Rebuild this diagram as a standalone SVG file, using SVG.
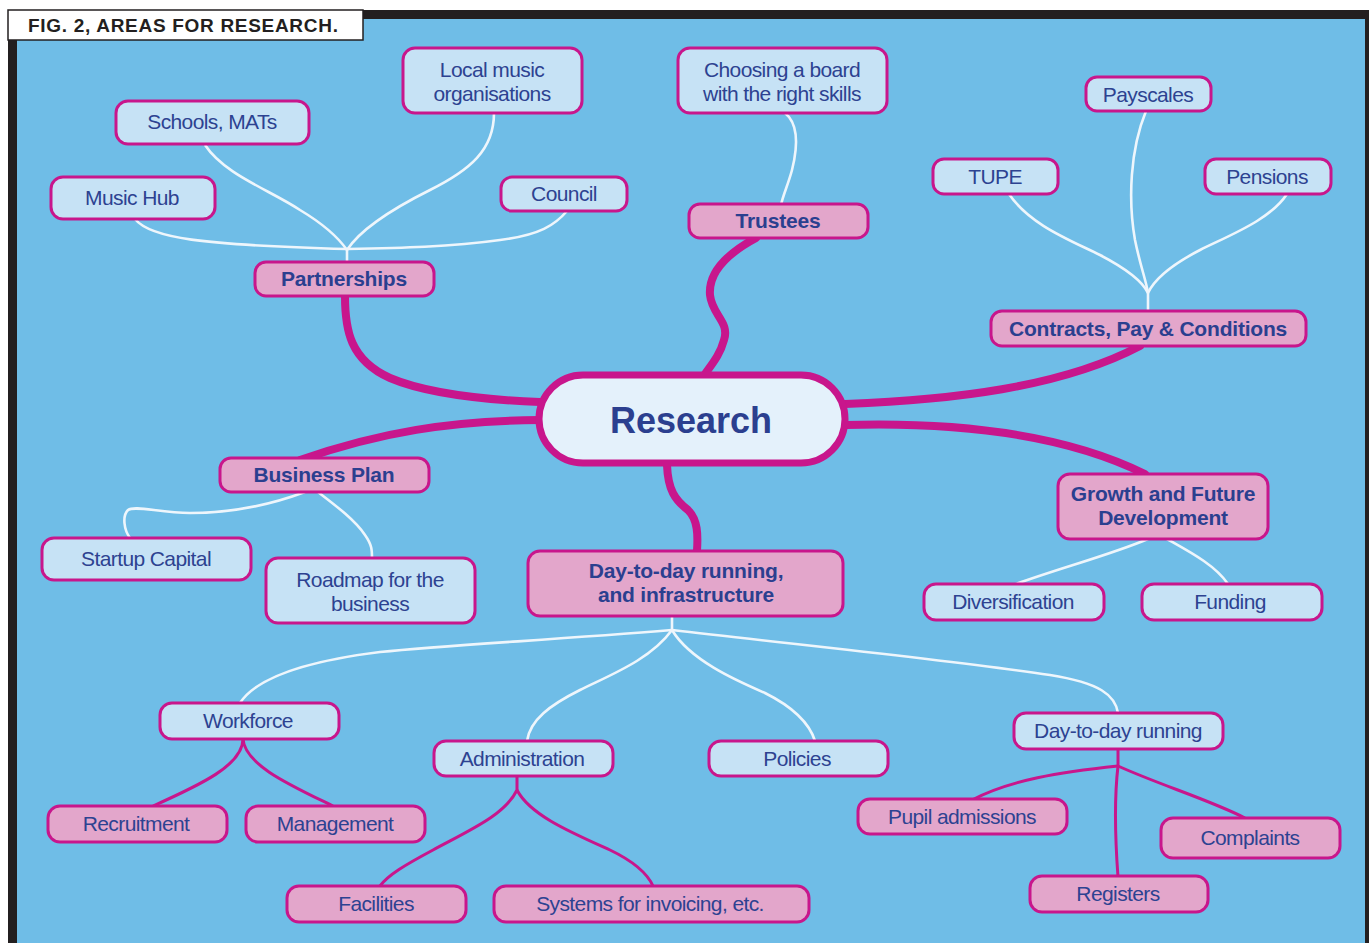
<svg xmlns="http://www.w3.org/2000/svg" width="1369" height="943" viewBox="0 0 1369 943">
<style>
.bg{fill:#6FBDE7}
.lt rect{fill:#C6E2F5;stroke:#C8168C;stroke-width:3}
.pk rect{fill:#E3A6CB;stroke:#C8168C;stroke-width:3}
.lt text,.pk text{font-family:"Liberation Sans",Arial,sans-serif;font-size:21px;fill:#2D4291;text-anchor:middle;letter-spacing:-0.6px}
.cat rect{fill:#E3A6CB;stroke:#C8168C;stroke-width:3}
.cat text{font-family:"Liberation Sans",Arial,sans-serif;font-size:21px;font-weight:bold;fill:#2B3F8F;text-anchor:middle;letter-spacing:-0.2px}
.thick{fill:none;stroke:#C8168C;stroke-width:8;stroke-linecap:round}
.white{fill:none;stroke:#EEF6FC;stroke-width:2.6}
.mag{fill:none;stroke:#C8168C;stroke-width:3}
</style>
<rect class="bg" x="0" y="0" width="1369" height="943"/>
<rect x="0" y="0" width="1369" height="10" fill="#FFFFFF"/>
<rect x="0" y="0" width="8" height="943" fill="#FFFFFF"/>
<rect x="8" y="10" width="1361" height="9" fill="#231F20"/>
<rect x="8" y="10" width="9" height="933" fill="#231F20"/>
<rect x="1365" y="10" width="4" height="933" fill="#231F20"/>
<g id="title">
<rect x="8" y="10" width="355" height="30" fill="#FFFFFF" stroke="#231F20" stroke-width="1.5"/>
<text x="28" y="32" font-family="Liberation Sans,Arial,sans-serif" font-size="19" font-weight="bold" letter-spacing="0.7" fill="#231F20">FIG. 2, AREAS FOR RESEARCH.</text>
</g>
<g id="connectors">
<path class="thick" d="M345,296 C345,330 350,360 390,378 C430,395 490,400 540,402"/>
<path class="thick" d="M540,420 C450,421 380,432 300,460"/>
<path class="thick" d="M756,238 C730,252 708,270 710,295 C712,315 730,322 724,340 C720,355 712,364 705,374"/>
<path class="thick" d="M845,404 C950,400 1060,388 1140,346"/>
<path class="thick" d="M845,425 C950,422 1060,432 1145,474"/>
<path class="thick" d="M667,465 C668,490 675,500 688,510 C698,520 698,535 697,551"/>
<path class="white" d="M135,219 C150,238 200,245 347,249"/>
<path class="white" d="M205,145 C225,175 270,190 300,210 C325,225 340,240 347,250"/>
<path class="white" d="M494,113 C494,150 470,170 430,190 C390,210 360,230 347,250"/>
<path class="white" d="M567,211 C555,225 540,235 500,240 C450,247 400,248 347,249"/>
<path class="white" d="M347,249 L347,262"/>
<path class="white" d="M785,113 C800,125 797,150 792,170 C788,185 783,195 781,205"/>
<path class="white" d="M1009,194 C1030,225 1070,240 1100,255 C1125,268 1142,280 1148,293"/>
<path class="white" d="M1146,111 C1130,150 1128,200 1135,240 C1140,265 1146,280 1148,293"/>
<path class="white" d="M1287,194 C1270,220 1230,235 1200,250 C1175,263 1155,278 1148,293"/>
<path class="white" d="M1148,293 L1148,311"/>
<path class="white" d="M305,492 C270,505 230,513 190,513 C160,513 135,505 128,510 C122,516 124,530 130,538"/>
<path class="white" d="M318,492 C335,505 355,520 365,535 C372,545 372,550 372,558"/>
<path class="white" d="M1148,539 C1110,555 1060,568 1016,584"/>
<path class="white" d="M1167,539 C1190,552 1215,565 1228,584"/>
<path class="white" d="M672,616 L672,630"/>
<path class="white" d="M672,630 C550,640 450,645 380,652 C300,662 255,680 240,703"/>
<path class="white" d="M672,630 C650,660 610,675 580,690 C550,705 530,720 527,741"/>
<path class="white" d="M672,630 C690,660 735,680 765,693 C795,708 810,725 815,741"/>
<path class="white" d="M672,630 C800,645 950,660 1050,675 C1100,683 1115,695 1118,713"/>
<path class="mag" d="M243,739 C243,765 200,785 153,806"/>
<path class="mag" d="M243,739 C245,765 290,785 333,806"/>
<path class="mag" d="M517,776 L517,790 C505,815 470,830 433,850 C405,865 388,875 380,886"/>
<path class="mag" d="M517,790 C530,815 570,832 610,850 C635,862 648,875 653,886"/>
<path class="mag" d="M1118,749 L1118,766"/>
<path class="mag" d="M1118,766 C1060,772 1010,780 972,800"/>
<path class="mag" d="M1118,766 C1160,785 1210,800 1245,818"/>
<path class="mag" d="M1118,766 C1114,800 1116,850 1118,877"/>
</g>
<g id="research">
<rect x="539" y="375" width="306" height="88" rx="44" fill="#E4F1FB" stroke="#C8168C" stroke-width="7"/>
<text x="691" y="433" font-family="Liberation Sans,Arial,sans-serif" font-size="36" font-weight="bold" fill="#2B3F8F" text-anchor="middle">Research</text>
</g>
<g id="partnerships" class="cat"><rect x="255" y="262" width="179" height="34" rx="11"/><text x="344" y="286">Partnerships</text></g>
<g id="trustees" class="cat"><rect x="689" y="204" width="179" height="34" rx="11"/><text x="778" y="228">Trustees</text></g>
<g id="contracts" class="cat"><rect x="991" y="311" width="315" height="35" rx="11"/><text x="1148" y="336">Contracts, Pay &amp; Conditions</text></g>
<g id="business-plan" class="cat"><rect x="220" y="458" width="209" height="34" rx="11"/><text x="324" y="482">Business Plan</text></g>
<g id="growth" class="cat"><rect x="1058" y="474" width="210" height="65" rx="12"/><text x="1163" y="501">Growth and Future</text><text x="1163" y="525">Development</text></g>
<g id="day-to-day-infra" class="cat"><rect x="528" y="551" width="315" height="65" rx="12"/><text x="686" y="578">Day-to-day running,</text><text x="686" y="602">and infrastructure</text></g>
<g id="schools" class="lt"><rect x="116" y="101" width="193" height="43" rx="12"/><text x="212" y="129">Schools, MATs</text></g>
<g id="local-music" class="lt"><rect x="403" y="48" width="179" height="65" rx="12"/><text x="492" y="77">Local music</text><text x="492" y="101">organisations</text></g>
<g id="music-hub" class="lt"><rect x="51" y="177" width="164" height="42" rx="12"/><text x="132" y="205">Music Hub</text></g>
<g id="council" class="lt"><rect x="501" y="177" width="126" height="34" rx="11"/><text x="564" y="201">Council</text></g>
<g id="choosing-board" class="lt"><rect x="678" y="48" width="209" height="65" rx="12"/><text x="782" y="77">Choosing a board</text><text x="782" y="101">with the right skills</text></g>
<g id="payscales" class="lt"><rect x="1086" y="77" width="125" height="34" rx="11"/><text x="1148" y="102">Payscales</text></g>
<g id="tupe" class="lt"><rect x="933" y="159" width="125" height="35" rx="11"/><text x="995" y="184">TUPE</text></g>
<g id="pensions" class="lt"><rect x="1205" y="159" width="126" height="35" rx="11"/><text x="1267" y="184">Pensions</text></g>
<g id="startup" class="lt"><rect x="42" y="538" width="209" height="42" rx="12"/><text x="146" y="566">Startup Capital</text></g>
<g id="roadmap" class="lt"><rect x="266" y="558" width="209" height="65" rx="12"/><text x="370" y="587">Roadmap for the</text><text x="370" y="611">business</text></g>
<g id="diversification" class="lt"><rect x="924" y="584" width="180" height="36" rx="12"/><text x="1013" y="609">Diversification</text></g>
<g id="funding" class="lt"><rect x="1142" y="584" width="180" height="36" rx="12"/><text x="1230" y="609">Funding</text></g>
<g id="workforce" class="lt"><rect x="160" y="703" width="179" height="36" rx="12"/><text x="248" y="728">Workforce</text></g>
<g id="administration" class="lt"><rect x="434" y="741" width="179" height="35" rx="12"/><text x="522" y="766">Administration</text></g>
<g id="policies" class="lt"><rect x="709" y="741" width="179" height="35" rx="12"/><text x="797" y="766">Policies</text></g>
<g id="day-to-day" class="lt"><rect x="1014" y="713" width="209" height="36" rx="12"/><text x="1118" y="738">Day-to-day running</text></g>
<g id="recruitment" class="pk"><rect x="48" y="806" width="179" height="36" rx="12"/><text x="136" y="831">Recruitment</text></g>
<g id="management" class="pk"><rect x="246" y="806" width="179" height="36" rx="12"/><text x="335" y="831">Management</text></g>
<g id="facilities" class="pk"><rect x="287" y="886" width="179" height="36" rx="12"/><text x="376" y="911">Facilities</text></g>
<g id="systems" class="pk"><rect x="494" y="886" width="315" height="36" rx="12"/><text x="650" y="911">Systems for invoicing, etc.</text></g>
<g id="pupil-admissions" class="pk"><rect x="858" y="799" width="209" height="35" rx="12"/><text x="962" y="824">Pupil admissions</text></g>
<g id="complaints" class="pk"><rect x="1161" y="818" width="179" height="40" rx="12"/><text x="1250" y="845">Complaints</text></g>
<g id="registers" class="pk"><rect x="1030" y="876" width="178" height="36" rx="12"/><text x="1118" y="901">Registers</text></g>
</svg>
